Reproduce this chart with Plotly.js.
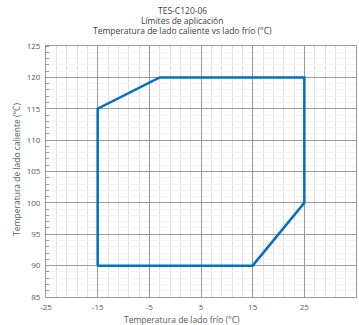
<!DOCTYPE html>
<html>
<head>
<meta charset="utf-8">
<script src="https://cdn.plot.ly/plotly-3.0.1.min.js"></script>
<style>html,body{margin:0;padding:0;background:#fff}#chart{width:359px;height:325px}</style>
</head>
<body>
<div id="chart"></div>
<script>
var coldSide = [-15, -15, -3, 25, 25, 15, -15];
var hotSide = [90, 115, 120, 120, 100, 90, 90];
var xTicks = [-25, -15, -5, 5, 15, 25, 35];
var yTicks = [85, 90, 95, 100, 105, 110, 115, 120, 125];
var titleLines = ['TES-C120-06', 'Límites de aplicación', 'Temperatura de lado caliente vs lado frío (°C)'];
var xTitle = 'Temperatura de lado frío (°C)';
var yTitle = 'Temperatura de lado caliente (°C)';

var fam = 'Open Sans, sans-serif';
var fnt = {family: fam, size: 8, color: '#595959'};
var titleY = [1.143, 1.1025, 1.0605];
var anns = titleLines.map(function (t, i) {
  return {text: t, xref: 'paper', yref: 'paper', x: 0.44, y: titleY[i], xanchor: 'center', yanchor: 'middle',
    showarrow: false, font: {family: fam, size: 8.5, color: '#404040'}};
});
anns.push({text: xTitle, xref: 'paper', yref: 'paper', x: 0.44, y: -0.09, xanchor: 'center', yanchor: 'middle',
  showarrow: false, font: {family: fam, size: 8.5, color: '#595959'}});
anns.push({text: yTitle, xref: 'paper', yref: 'paper', x: -0.094, y: 0.51, xanchor: 'center', yanchor: 'middle',
  textangle: -90, showarrow: false, font: {family: fam, size: 8.5, color: '#595959'}});

Plotly.newPlot('chart', [{
  x: coldSide, y: hotSide, type: 'scatter', mode: 'lines',
  line: {color: '#0070C0', width: 2.5}, hoverinfo: 'none'
}], {
  width: 359, height: 325,
  margin: {l: 46, r: 3, t: 46, b: 28},
  paper_bgcolor: '#fff', plot_bgcolor: '#fff',
  showlegend: false,
  font: fnt,
  annotations: anns,
  xaxis: {
    range: [-25, 35], tickvals: xTicks, ticktext: xTicks.map(String),
    showgrid: true, gridcolor: '#9a9a9a', gridwidth: 1,
    minor: {dtick: 2, tick0: -25, showgrid: true, gridcolor: '#dedede', gridwidth: 1},
    showline: true, mirror: true, linecolor: '#9a9a9a', linewidth: 1,
    zeroline: false, ticks: '', tickfont: fnt, ticklabelstandoff: 2
  },
  yaxis: {
    range: [85, 125], tickvals: yTicks, ticktext: yTicks.map(String),
    showgrid: true, gridcolor: '#9a9a9a', gridwidth: 1,
    minor: {dtick: 1, tick0: 85, showgrid: true, gridcolor: '#f3f3f3', gridwidth: 1, ticks: 'inside', ticklen: 3, tickcolor: '#9a9a9a'},
    showline: true, mirror: true, linecolor: '#9a9a9a', linewidth: 1,
    zeroline: false, ticks: '', tickfont: fnt, ticklabelstandoff: 3
  }
}, {staticPlot: true, displayModeBar: false});
</script>
</body>
</html>
